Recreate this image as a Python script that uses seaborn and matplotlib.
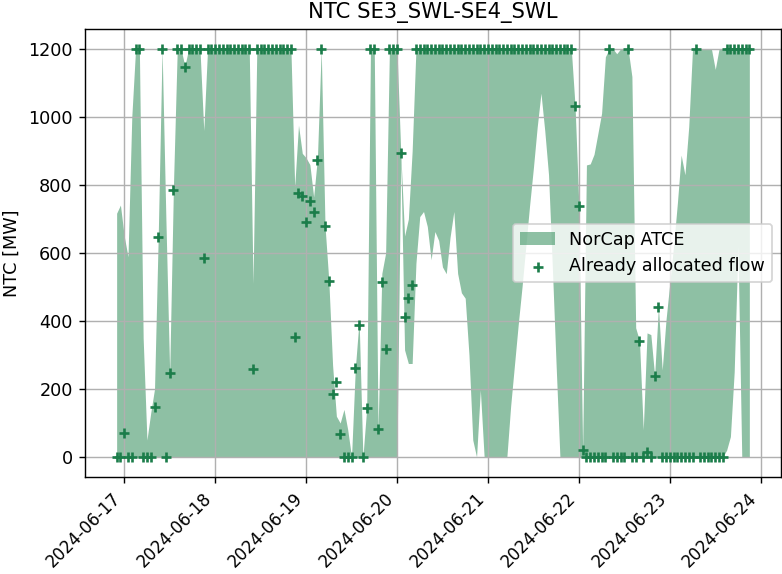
import numpy as np
import pandas as pd
import matplotlib
matplotlib.use("Agg")
import matplotlib.pyplot as plt
import seaborn as sns

# hourly values, first hour 2024-06-16 22:00
start = "2024-06-16 22:00"

# upper edge of NorCap ATCE band (MW)
atce_upper = (
    [717, 741, 650, 589, 1000, 1200, 1200, 350, 50, 130, 200, 660,
     1200, 700, 247, 800, 1200, 1200, 1150, 1200, 1200, 1200, 1200, 960]
    + [1200] * 12 + [510] + [1200] * 10
    + [795, 976, 893, 880, 860, 765, 880, 1200, 680, 519, 270, 120,
       100, 140, 80, 0, 261, 403, 0, 143, 1200, 1200, 80, 540,
       600, 1200, 1200, 1200, 893, 650, 700, 900]
    + [1200] * 42
    + [1032, 740, 20, 859, 862, 890, 950, 1011, 1177, 1200, 1200, 1186,
       1200, 1200, 1200, 1119, 380, 342, 80, 365, 360, 239, 442, 256,
       403, 511, 620, 746, 888, 830, 971, 1200, 1200, 1200, 1200, 1200,
       1200, 1140, 1200, 1200, 1200, 1200, 1200, 1200, 1200, 1200, 1200]
)

# lower edge of NorCap ATCE band (MW)
atce_lower = (
    [0] * 75
    + [880, 315, 275, 275, 570, 707, 722, 678, 580, 663, 637, 559,
       539, 646, 722, 540, 483, 467, 300, 50, 0, 197, 0]
    + [0] * 6
    + [150, 270, 390, 500, 620, 740, 850, 970, 1070, 960, 830, 560, 270]
    + [0] * 44
    + [20, 60, 250, 620, 0, 0, 0]
)

# already allocated flow (MW)
alloc_flow = (
    [0, 0, 70, 0, 0, 1200, 1200, 0, 0, 0, 148, 648,
     1200, 0, 247, 785, 1200, 1200, 1148, 1200, 1200, 1200, 1200, 585]
    + [1200] * 12 + [258] + [1200] * 10
    + [354, 775, 768, 692, 753, 722, 873, 1200, 680, 519, 185, 221,
       67, 0, 0, 0, 261, 388, 0, 143, 1200, 1200, 81, 514,
       317, 1200, 1200, 1200, 893, 411, 467, 506]
    + [1200] * 42
    + [1032, 738, 20, 0, 0, 0, 0, 0, 0, 1200, 0, 0,
       0, 0, 1200, 0, 0, 342, 0, 15, 0, 239, 442, 0,
       0, 0, 0, 0, 0, 0, 0, 0, 1200, 0, 0, 0,
       0, 0, 0, 0, 1200, 1200, 1200, 1200, 1200, 1200, 1200]
)

times = pd.date_range(start, periods=len(atce_upper), freq="h")
df = pd.DataFrame({"time": times, "lower": atce_lower[:len(times)],
                   "upper": atce_upper, "flow": alloc_flow[:len(times)]})

dpi = 127
fig = plt.figure(figsize=(782 / dpi, 574 / dpi), dpi=dpi)
ax = fig.add_axes([0.1087, 0.1683, 0.89, 0.7819])

ax.fill_between(df["time"], df["lower"], df["upper"], color="seagreen",
                alpha=0.54, linewidth=0, label="NorCap ATCE")
sns.scatterplot(data=df, x="time", y="flow", marker="+", color="#1b7d4a",
                s=36, linewidth=1.5, label="Already allocated flow", ax=ax,
                zorder=3)

ax.grid(True)
ax.set_title("NTC SE3_SWL-SE4_SWL")
ax.set_ylabel("NTC [MW]")
ax.set_xlabel("")
ax.legend(loc="center right")
plt.setp(ax.get_xticklabels(), rotation=45, ha="right", fontsize=9.5)

fig.savefig("out.png", dpi=dpi)
